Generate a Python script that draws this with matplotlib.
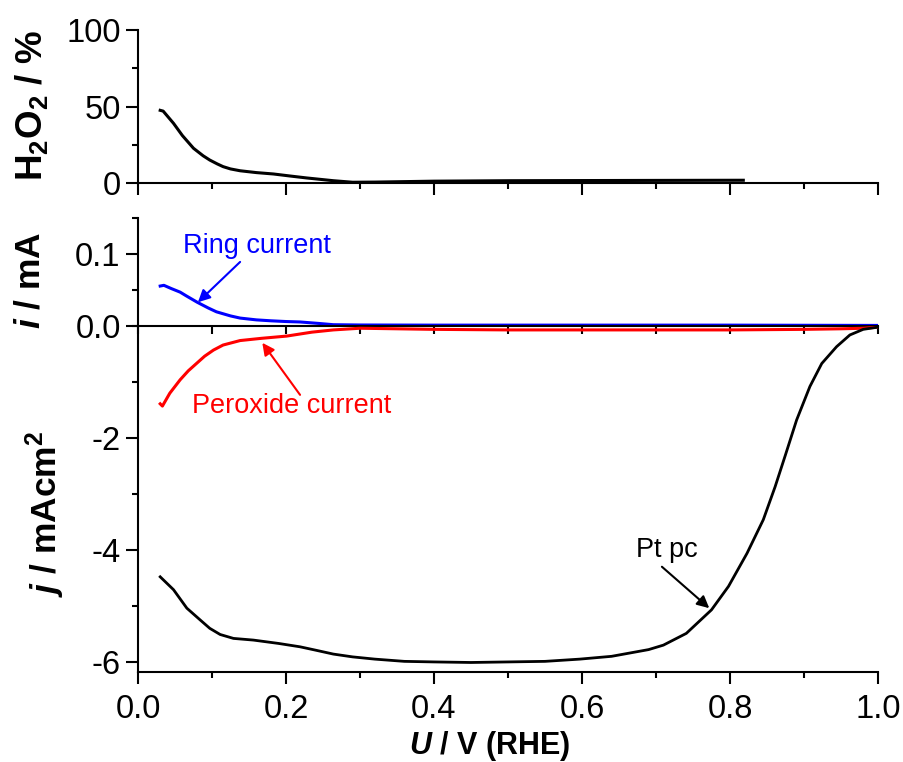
import matplotlib
matplotlib.use("Agg")
import matplotlib.pyplot as plt
from matplotlib.ticker import MultipleLocator

plt.rcParams['font.family'] = ['Liberation Sans', 'DejaVu Sans']
plt.rcParams['axes.unicode_minus'] = False
plt.rcParams['mathtext.fontset'] = 'custom'
plt.rcParams['mathtext.rm'] = 'Liberation Sans'
plt.rcParams['mathtext.bf'] = 'Liberation Sans:bold'
plt.rcParams['mathtext.it'] = 'Liberation Sans:italic'
plt.rcParams['mathtext.bfit'] = 'Liberation Sans:italic:bold'

# H2O2 yield
U_h2o2 = [0.030, 0.034, 0.048, 0.060, 0.075, 0.088, 0.097, 0.107, 0.115, 0.125,
          0.138, 0.160, 0.183, 0.205, 0.228, 0.250, 0.264, 0.290, 0.320, 0.400,
          0.500, 0.600, 0.700, 0.818]
h2o2 = [47.5, 47.0, 39.0, 31.0, 22.7, 17.8, 15.0, 12.5, 10.7, 9.2,
        8.0, 6.8, 5.9, 4.6, 3.3, 2.2, 1.5, 0.5, 0.6, 1.2,
        1.5, 1.6, 1.7, 1.8]

# ring current (mA)
U_ring = [0.030, 0.035, 0.045, 0.057, 0.065, 0.080, 0.095, 0.106, 0.125, 0.138,
          0.160, 0.180, 0.200, 0.219, 0.245, 0.264, 0.300, 0.400, 0.500, 0.600,
          0.700, 0.800, 0.900, 1.000]
i_ring = [0.0555, 0.0565, 0.052, 0.047, 0.042, 0.033, 0.025, 0.0197, 0.014, 0.011,
          0.0085, 0.0072, 0.0062, 0.0056, 0.0035, 0.0018, 0.0014, 0.0012, 0.0012, 0.0012,
          0.0012, 0.0012, 0.0010, 0.0008]

# peroxide current (mA cm^-2)
U_perox = [0.030, 0.033, 0.043, 0.050, 0.057, 0.068, 0.079, 0.090, 0.102, 0.115,
           0.138, 0.167, 0.201, 0.235, 0.264, 0.300, 0.400, 0.500, 0.600, 0.700,
           0.800, 0.900, 0.950, 0.980, 1.000]
j_perox = [-1.39, -1.43, -1.20, -1.08, -0.96, -0.80, -0.67, -0.54, -0.43, -0.34,
           -0.26, -0.22, -0.18, -0.11, -0.07, -0.04, -0.06, -0.07, -0.07, -0.07,
           -0.07, -0.06, -0.05, -0.04, -0.02]

# disk current, Pt pc (mA cm^-2)
U_disk = [0.030, 0.048, 0.066, 0.084, 0.097, 0.111, 0.129, 0.156, 0.190, 0.219,
          0.240, 0.264, 0.290, 0.320, 0.360, 0.400, 0.450, 0.500, 0.550, 0.597,
          0.640, 0.665, 0.690, 0.710, 0.741, 0.775, 0.798, 0.823, 0.845, 0.861,
          0.875, 0.890, 0.908, 0.924, 0.944, 0.962, 0.980, 1.000]
j_disk = [-4.48, -4.71, -5.04, -5.25, -5.40, -5.51, -5.58, -5.61, -5.67, -5.73,
          -5.79, -5.86, -5.91, -5.95, -5.99, -6.00, -6.01, -6.00, -5.99, -5.95,
          -5.90, -5.84, -5.78, -5.70, -5.49, -5.07, -4.65, -4.06, -3.46, -2.87,
          -2.30, -1.68, -1.08, -0.67, -0.37, -0.16, -0.06, -0.02]

TICK_FS = 23.5
LABEL_FS = 25.5
NOTE_FS = 19.5

fig = plt.figure(figsize=(9.04, 7.62), dpi=100)
ax_top = fig.add_axes([0.15265, 0.75984, 0.81858, 0.20079])
ax_mid = fig.add_axes([0.15265, 0.57218, 0.81858, 0.14173])
ax_bot = fig.add_axes([0.15265, 0.11811, 0.81858, 0.45407])

for ax in (ax_top, ax_mid, ax_bot):
    ax.set_xlim(0, 1.0)
    ax.spines['top'].set_visible(False)
    ax.spines['right'].set_visible(False)
    for s in ('left', 'bottom'):
        ax.spines[s].set_linewidth(1.5)
    ax.xaxis.set_major_locator(MultipleLocator(0.2))
    ax.xaxis.set_minor_locator(MultipleLocator(0.1))
    ax.tick_params(which='both', direction='out', width=1.5, labelsize=TICK_FS, pad=4)
    ax.tick_params(which='major', length=8.5)
    ax.tick_params(which='minor', length=4.5)
    ax.patch.set_alpha(0)

ax_top.plot(U_h2o2, h2o2, color='black', lw=2.2)
ax_top.set_ylim(0, 100)
ax_top.yaxis.set_major_locator(MultipleLocator(50))
ax_top.yaxis.set_minor_locator(MultipleLocator(25))
ax_top.tick_params(axis='x', labelbottom=False)

ax_mid.plot(U_ring, i_ring, color='#0000ff', lw=2.2)
ax_mid.set_ylim(0, 0.15)
ax_mid.yaxis.set_major_locator(MultipleLocator(0.1))
ax_mid.yaxis.set_minor_locator(MultipleLocator(0.05))
ax_mid.yaxis.set_major_formatter(plt.FormatStrFormatter('%.1f'))
ax_mid.tick_params(axis='x', labelbottom=False)
ax_mid.tick_params(axis='x', which='both', length=6)

ax_bot.plot(U_perox, j_perox, color='#ff0000', lw=2.2)
ax_bot.plot(U_disk, j_disk, color='black', lw=2)
ax_bot.set_ylim(-6.18, 0)
ax_bot.yaxis.set_major_locator(MultipleLocator(2))
ax_bot.yaxis.set_minor_locator(MultipleLocator(1))
ax_bot.set_yticks([-6, -4, -2])
ax_bot.xaxis.set_major_formatter(plt.FormatStrFormatter('%.1f'))
ax_bot.tick_params(axis='x', pad=7)

# annotations
ax_mid.annotate('', xy=(0.081, 0.033), xytext=(0.138, 0.089),
                arrowprops=dict(arrowstyle='-|>', color='#0000ff', lw=1.5,
                                mutation_scale=18, shrinkA=0, shrinkB=0))
ax_mid.text(0.161, 0.111, 'Ring current', color='#0000ff', fontsize=NOTE_FS,
            ha='center', va='center')

ax_bot.annotate('', xy=(0.168, -0.30), xytext=(0.219, -1.23),
                arrowprops=dict(arrowstyle='-|>', color='#ff0000', lw=1.5,
                                mutation_scale=18, shrinkA=0, shrinkB=0))
ax_bot.text(0.208, -1.43, 'Peroxide current', color='#ff0000', fontsize=NOTE_FS,
            ha='center', va='center')

ax_bot.annotate('', xy=(0.772, -5.04), xytext=(0.708, -4.30),
                arrowprops=dict(arrowstyle='-|>', color='black', lw=1.5,
                                mutation_scale=18, shrinkA=0, shrinkB=0))
ax_bot.text(0.714, -4.0, 'Pt pc', color='black', fontsize=NOTE_FS,
            ha='center', va='center')

# axis titles
fig.text(32 / 904, 0.861, r'$\mathbf{H_2O_2}$ / %', rotation=90, fontsize=LABEL_FS + 1,
         fontweight='bold', ha='center', va='center')
fig.text(30 / 904, 0.6325, r'$\mathbfit{i}$ / mA', rotation=90, fontsize=LABEL_FS,
         fontweight='bold', ha='center', va='center')
fig.text(45 / 904, 0.3255, r'$\mathbfit{j}$ / mAcm$^\mathbf{2}$', rotation=90,
         fontsize=LABEL_FS, fontweight='bold', ha='center', va='center')
fig.text(490 / 904, 0.010, r'$\mathbfit{U}$ / V (RHE)', fontsize=22,
         fontweight='bold', ha='center', va='baseline')

fig.savefig('out.png', dpi=100)
